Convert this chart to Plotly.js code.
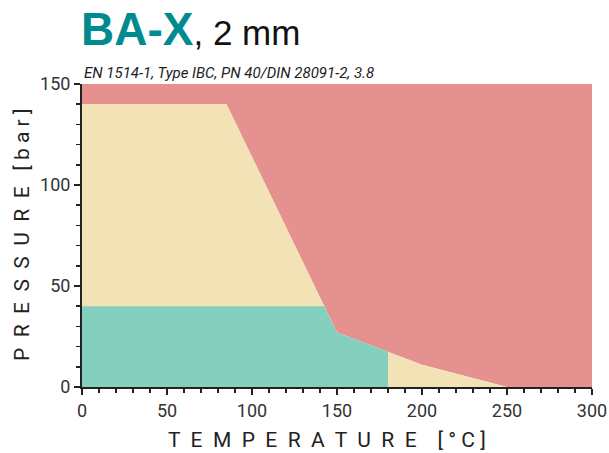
<!DOCTYPE html>
<html><head><meta charset="utf-8">
<script src="https://cdn.plot.ly/plotly-3.0.1.min.js"></script>
<style>
html,body{margin:0;padding:0;background:#fff}#chart{width:609px;height:453px}
</style>
</head><body><div id="chart"></div>
<script>
// Region boundaries (temperature °C, pressure bar)
const redT   = [0, 85, 150, 200, 250, 300, 300, 0];
const redP   = [140, 140, 27, 11, 0, 0, 150, 150];
const yellowT = [0, 0, 85, 150, 200, 250];
const yellowP = [0, 140, 140, 27, 11, 0];
const greenT = [0, 0, 142.5, 150, 180, 180];
const greenP = [0, 40, 40, 27, 17.5, 0];
const xTicks = [0, 50, 100, 150, 200, 250, 300];
const yTicks = [0, 50, 100, 150];

const narrow = "Roboto, 'DejaVu Sans', sans-serif";

const traces = [
  {x: redT, y: redP, type: 'scatter', mode: 'lines', fill: 'toself', fillcolor: '#e5918f', line: {width: 0}, hoverinfo: 'skip'},
  {x: yellowT, y: yellowP, type: 'scatter', mode: 'lines', fill: 'toself', fillcolor: '#f2e2b6', line: {width: 0}, hoverinfo: 'skip'},
  {x: greenT, y: greenP, type: 'scatter', mode: 'lines', fill: 'toself', fillcolor: '#85cfbf', line: {width: 0}, hoverinfo: 'skip'}
];

const layout = {
  width: 609, height: 453,
  margin: {l: 82, r: 17, t: 84, b: 66},
  paper_bgcolor: '#fff', plot_bgcolor: '#fff',
  showlegend: false,
  xaxis: {
    range: [0, 300], tickvals: xTicks, ticktext: xTicks.map(String),
    showgrid: false, zeroline: false, showline: true, linecolor: '#222', linewidth: 2,
    ticks: 'outside', ticklen: 6, tickwidth: 2, tickcolor: '#222',
    minor: {dtick: 10, ticklen: 4, tickwidth: 1.5, tickcolor: '#222', ticks: 'outside', showgrid: false},
    tickfont: {family: narrow, size: 18, color: '#333'}
  },
  yaxis: {
    range: [0, 150], tickvals: yTicks, ticktext: yTicks.map(String),
    showgrid: false, zeroline: false, showline: true, linecolor: '#222', linewidth: 2,
    ticks: 'outside', ticklen: 6, tickwidth: 2, tickcolor: '#222',
    minor: {dtick: 10, ticklen: 4, tickwidth: 1.5, tickcolor: '#222', ticks: 'outside', showgrid: false},
    tickfont: {family: narrow, size: 18, color: '#333'}
  },
  annotations: [
    {xref: 'paper', yref: 'paper', x: -0.006, y: 1.088, xanchor: 'left', yanchor: 'bottom', showarrow: false,
     text: "<b><span style='color:#008b90;font-size:46px'>BA-X</span></b><span style='font-size:35px;color:#111'>, 2 mm</span>",
     font: {family: "Liberation Sans, Arial, sans-serif", size: 35, color: '#111'}},
    {xref: 'paper', yref: 'paper', x: 0.0, y: 1.0, xanchor: 'left', yanchor: 'bottom', showarrow: false,
     text: "<i>EN 1514-1, Type IBC, PN 40/DIN 28091-2, 3.8</i>",
     font: {family: narrow, size: 15, color: '#222'}},
    {xref: 'paper', yref: 'paper', x: 0.48, y: -0.175, xanchor: 'center', yanchor: 'middle', showarrow: false,
     text: 'T  E  M  P  E  R  A  T  U  R  E    [ ° C ]',
     font: {family: narrow, size: 21, color: '#222'}},
    {xref: 'paper', yref: 'paper', x: -0.1176, y: 0.502, xanchor: 'center', yanchor: 'middle', showarrow: false, textangle: -90,
     text: 'P  R  E  S  S  U  R  E   [ b a r ]',
     font: {family: narrow, size: 21, color: '#222'}}
  ]
};

Plotly.newPlot('chart', traces, layout, {displayModeBar: false, staticPlot: true});
</script></body></html>
